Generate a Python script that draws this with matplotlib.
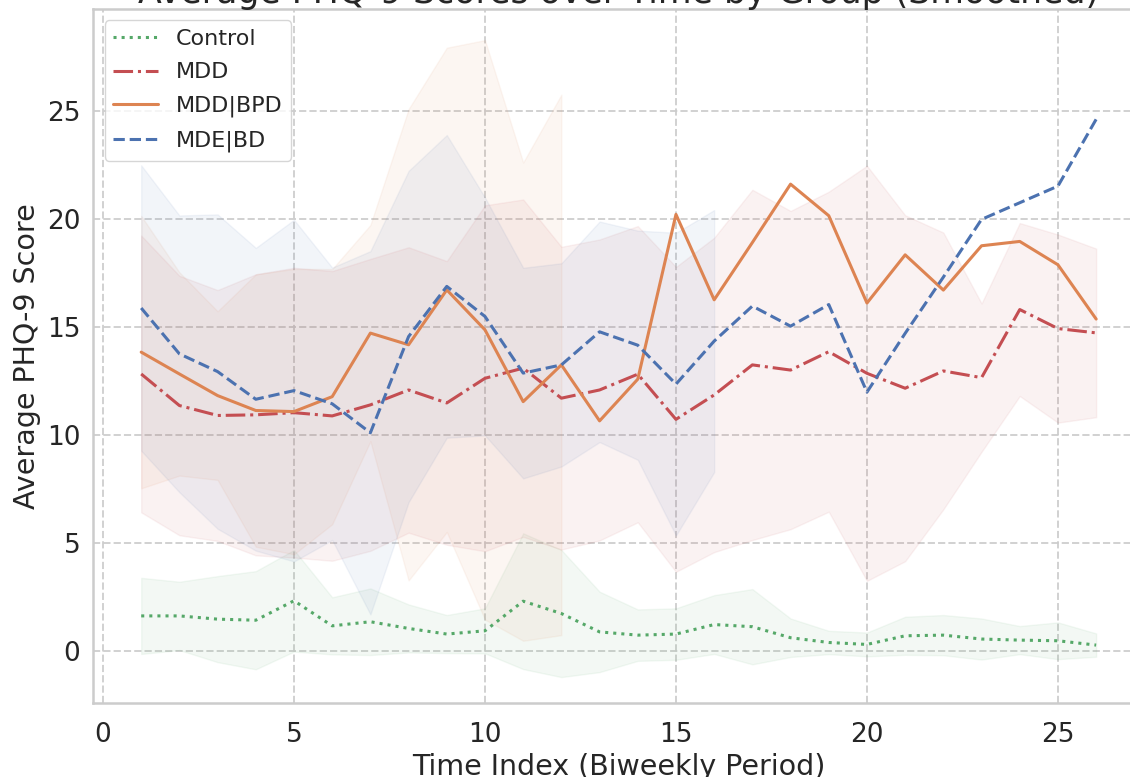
import matplotlib.pyplot as plt
import numpy as np
import seaborn as sns

# biweekly periods
time_index = np.arange(1, 27)
nan = np.nan

groups = ["Control", "MDD", "MDD|BPD", "MDE|BD"]

control_mean = [1.63, 1.63, 1.48, 1.43, 2.33, 1.17, 1.36, 1.05, 0.79, 0.94, 2.31, 1.74, 0.89,
                0.74, 0.79, 1.23, 1.13, 0.62, 0.40, 0.31, 0.71, 0.74, 0.56, 0.51, 0.48, 0.28]
control_std = [1.76, 1.58, 1.99, 2.27, 2.35, 1.32, 1.54, 1.11, 0.88, 1.04, 3.14, 2.94, 1.86,
               1.19, 1.19, 1.36, 1.74, 0.89, 0.54, 0.55, 0.88, 0.93, 0.95, 0.65, 0.85, 0.54]

mdd_mean = [12.82, 11.36, 10.90, 10.93, 11.03, 10.88, 11.39, 12.08, 11.48, 12.62, 13.09, 11.70, 12.08,
            12.81, 10.72, 11.85, 13.24, 13.00, 13.85, 12.85, 12.16, 12.96, 12.65, 15.80, 14.92, 14.72]
mdd_std = [6.4, 6.0, 5.8, 6.5, 6.7, 6.7, 6.75, 6.6, 6.56, 8.0, 7.8, 7.0, 6.96,
           6.85, 7.05, 7.27, 8.1, 7.36, 7.4, 9.6, 8.0, 6.4, 3.43, 4.0, 4.35, 3.9]

bpd_mean = [13.83, 12.82, 11.82, 11.13, 11.08, 11.77, 14.71, 14.17, 16.71, 14.86, 11.54, 13.24, 10.65,
            12.58, 20.20, 16.25, 18.90, 21.60, 20.14, 16.10, 18.33, 16.70, 18.75, 18.95, 17.87, 15.36]
bpd_std = [6.3, 4.7, 3.9, 6.3, 6.6, 5.9, 5.0, 10.9, 11.2, 13.4, 11.06, 12.5, nan,
           nan, nan, nan, nan, nan, nan, nan, nan, nan, nan, nan, nan, nan]

bd_mean = [15.87, 13.75, 12.93, 11.65, 12.05, 11.44, 10.10, 14.55, 16.87, 15.48, 12.86, 13.24, 14.77,
           14.15, 12.35, 14.34, 15.96, 15.03, 16.03, 11.98, 14.70, 17.30, 19.97, 20.74, 21.51, 24.60]
bd_std = [6.6, 6.4, 7.27, 7.0, 7.9, 6.3, 8.4, 7.66, 7.0, 5.5, 4.87, 4.7, 5.1,
          5.3, 7.0, 6.06, nan, nan, nan, nan, nan, nan, nan, nan, nan, nan]

means = [control_mean, mdd_mean, bpd_mean, bd_mean]
stds = [control_std, mdd_std, bpd_std, bd_std]
colors = ["#55A868", "#C44E52", "#DD8452", "#4C72B0"]
styles = [":", "-.", "-", "--"]

sns.set_theme(style="whitegrid")
plt.rcParams['font.family'] = ['DejaVu Sans']

fig = plt.figure(figsize=(11.3, 7.77), dpi=100)
ax = fig.add_axes([0.0827, 0.0952, 0.9296, 0.8932])

for name, m, s, c, ls in zip(groups, means, stds, colors, styles):
    m = np.array(m)
    s = np.array(s)
    ax.plot(time_index, m, color=c, linestyle=ls, linewidth=2.2, label=name)
    ax.fill_between(time_index, m - s, m + s, color=c, alpha=0.07)

ax.set_xlim(-0.25, 27.25)
ax.set_ylim(-2.4, 29.7)
ax.set_xticks([0, 5, 10, 15, 20, 25])
ax.set_yticks([0, 5, 10, 15, 20, 25])
ax.tick_params(labelsize=19)
ax.tick_params(axis='x', pad=8)
ax.grid(True, linestyle='--', linewidth=1.4, alpha=0.9)
for sp in ax.spines.values():
    sp.set_linewidth(1.8)

ax.set_title("Average PHQ-9 Scores over Time by Group (Smoothed)", fontsize=25, pad=4)
ax.set_xlabel("Time Index (Biweekly Period)", fontsize=20.5, labelpad=3)
ax.set_ylabel("Average PHQ-9 Score", fontsize=20.5)
ax.legend(loc="upper left", fontsize=16, labelspacing=0.6)

fig.savefig("out.png", dpi=100)
